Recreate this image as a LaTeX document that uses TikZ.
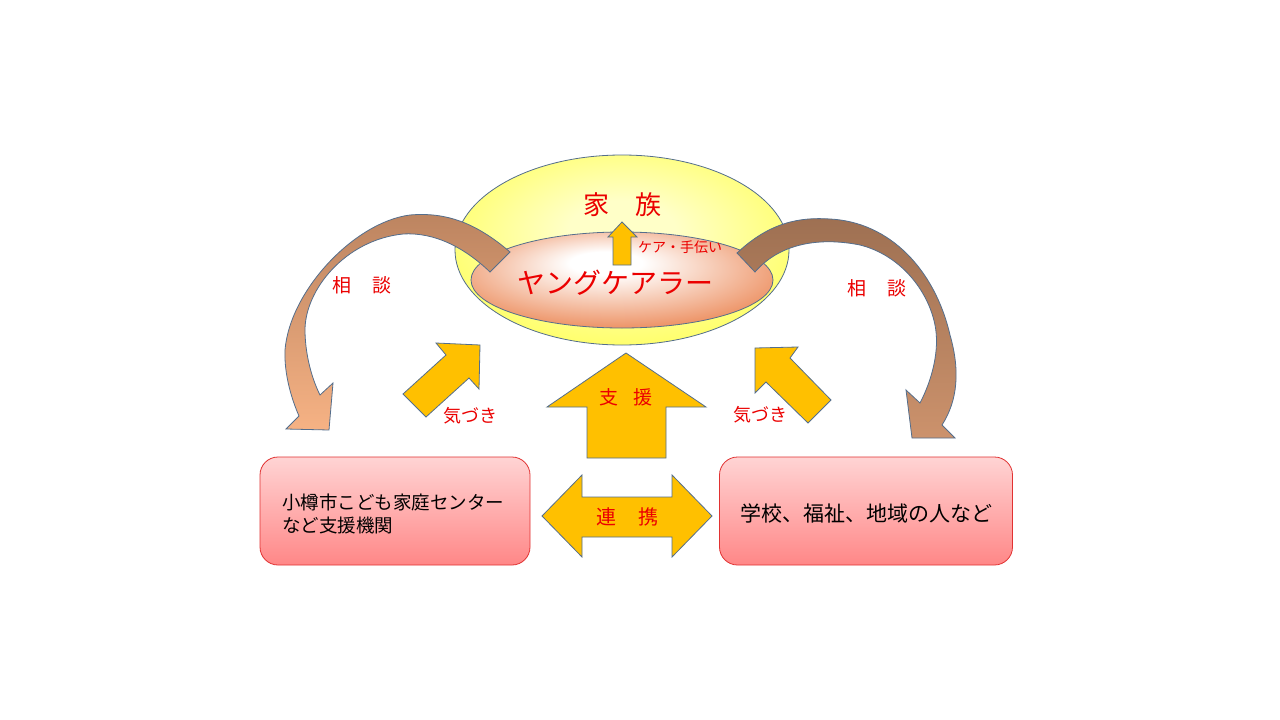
\documentclass[tikz,border=0pt]{standalone}
\usepackage{fontspec}
\usepackage{tikz}
\newfontfamily\jpfont{Noto Sans CJK JP}
\newcommand{\jp}[1]{\jpfont\fontsize{#1}{#1}\selectfont}
\definecolor{edgeblue}{RGB}{84,110,140}
\definecolor{gold}{RGB}{255,192,0}
\definecolor{txtred}{RGB}{235,0,0}
\definecolor{famin}{RGB}{255,255,200}
\definecolor{famout}{RGB}{255,255,70}
\definecolor{ycout}{RGB}{232,116,58}
\definecolor{boxtop}{RGB}{255,212,212}
\definecolor{boxbot}{RGB}{255,135,135}
\definecolor{boxedge}{RGB}{225,50,50}
\pgfdeclareradialshading{famshade}{\pgfpoint{0bp}{6bp}}{color(0bp)=(famin); color(8bp)=(famin); color(36bp)=(famout); color(50bp)=(famout)}
\pgfdeclareradialshading{ycshade}{\pgfpoint{-3bp}{10bp}}{color(0bp)=(white); color(6bp)=(white); color(36bp)=(ycout); color(50bp)=(ycout)}

\begin{document}
\begin{tikzpicture}[x=1pt,y=-1pt,
  blockarrow/.style={fill=gold, draw=edgeblue, line width=0.8pt},
  redtext/.style={text=txtred, inner sep=0pt},
  infobox/.style={draw=boxedge, line width=0.8pt, rounded corners=18pt, top color=boxtop, bottom color=boxbot, inner sep=0pt}]
\fill[white] (0,0) rectangle (1280,720);
\useasboundingbox (0,0) rectangle (1280,720);
%family and young carer
\shade[shading=famshade, draw=edgeblue, line width=0.8pt] (622,250) ellipse [x radius=167, y radius=95];
\shade[shading=ycshade, draw=edgeblue, line width=0.8pt] (622,280) ellipse [x radius=151, y radius=48];
%consultation arrows
\shade[top color={rgb,255:red,188;green,132;blue,96}, bottom color={rgb,255:red,246;green,178;blue,132}, draw=edgeblue, line width=0.8pt]
  (510,252) .. controls (475,222) and (445,212) .. (410,215)
  .. controls (355,222) and (290,290) .. (285,350)
  .. controls (284,375) and (292,400) .. (299,416)
  -- (286,429) -- (329,430) -- (333,383) -- (320,395)
  .. controls (310,375) and (305,350) .. (305,330)
  .. controls (305,290) and (345,240) .. (403,234)
  .. controls (435,232) and (465,248) .. (490,272) -- cycle;
\shade[top color={rgb,255:red,158;green,112;blue,82}, bottom color={rgb,255:red,204;green,146;blue,108}, draw=edgeblue, line width=0.8pt]
  (737,253) .. controls (770,222) and (800,217) .. (830,219)
  .. controls (890,222) and (935,270) .. (950,335)
  .. controls (960,370) and (958,400) .. (942,425)
  -- (955,438) -- (912,438) -- (906,390) -- (920,403)
  .. controls (932,380) and (940,350) .. (935,325)
  .. controls (928,290) and (900,255) .. (860,245)
  .. controls (820,237) and (780,243) .. (755,272) -- cycle;
%block arrows
\draw[blockarrow] (613,265) -- (613,237) -- (608,237) -- (622,222) -- (637,237) -- (631,237) -- (631,265) -- cycle;
\draw[blockarrow] (587,458) -- (587,407) -- (547,407) -- (626,353) -- (706,407) -- (666,407) -- (666,458) -- cycle;
\draw[blockarrow] (542,516) -- (582,475) -- (582,497) -- (672,497) -- (672,475) -- (712,516) -- (672,557) -- (672,537) -- (582,537) -- (582,557) -- cycle;
\draw[blockarrow] (403,394) -- (446,355) -- (436,343) -- (480,345) -- (479,389) -- (469,378) -- (426,417) -- cycle;
\draw[blockarrow] (831,400) -- (790,358) -- (798,347) -- (755,348) -- (755,393) -- (766,382) -- (808,423) -- cycle;
%boxes
\node[infobox, minimum width=270pt, minimum height=108pt] (ctr) at (395,511) {};
\node[infobox, minimum width=293pt, minimum height=108pt] (sch) at (866,511) {};
\node[inner sep=0pt, text width=244pt, align=left, anchor=west, font={\jpfont\fontsize{18.5}{23}\selectfont}] (ctrtext) at (282,514)
  {小樽市こども家庭センター\\など支援機関};
\node[inner sep=0pt, font=\jp{21}] (schtext) at (866,513) {学校、福祉、地域の人など};
%labels
\node[redtext, font=\jp{26}] (fam) at (622,205) {家\hspace{1em}族};
\node[redtext, font=\jp{28}] (yc) at (615,283) {ヤングケアラー};
\node[redtext, font=\jp{14}] (care) at (680,247) {ケア・手伝い};
\node[redtext, font=\jp{19}] (sodanL) at (362,285) {相\hspace{1.1em}談};
\node[redtext, font=\jp{19}] (sodanR) at (877,288) {相\hspace{1.1em}談};
\node[redtext, font=\jp{18}] (kizukiL) at (470,416) {気づき};
\node[redtext, font=\jp{18}] (kizukiR) at (760,415) {気づき};
\node[redtext, font=\jp{19}] (shien) at (626,397) {支\hspace{0.8em}援};
\node[redtext, font=\jp{20}] (renkei) at (627,517) {連\hspace{1.1em}携};
\end{tikzpicture}
\end{document}
